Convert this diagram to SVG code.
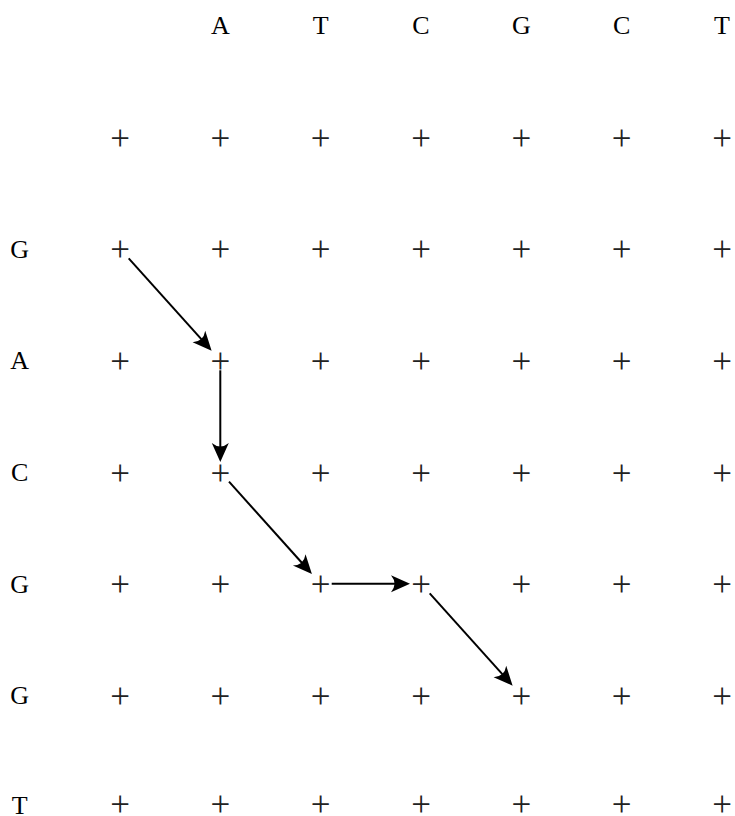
<svg xmlns="http://www.w3.org/2000/svg" width="735" height="816" viewBox="0 0 735 816">
  <defs>
    <style>
      .lbl { font-family: "Liberation Serif", "Times New Roman", serif; font-size: 26px; fill: #000; text-anchor: middle; }
      .pt { font-family: "Liberation Serif", "Times New Roman", serif; font-size: 35px; fill: #222; text-anchor: middle; }
      .step { stroke: #000; stroke-width: 2; fill: none; marker-end: url(#stealth); }
    </style>
    <marker id="stealth" markerUnits="userSpaceOnUse" markerWidth="30" markerHeight="24" viewBox="-15 -12 30 24" refX="0" refY="0" orient="auto" overflow="visible">
      <path d="M6,0 L-13,-8.5 Q-6,0 -13,8.5 Z" fill="#000"/>
    </marker>
  </defs>

  <rect width="735" height="816" fill="#fff"/>

  <!-- column headers (sequence 1) -->
  <g id="col-headers">
    <text class="lbl" x="220.3" y="34">A</text>
    <text class="lbl" x="320.7" y="34">T</text>
    <text class="lbl" x="421" y="34">C</text>
    <text class="lbl" x="521.3" y="34">G</text>
    <text class="lbl" x="621.7" y="34">C</text>
    <text class="lbl" x="722" y="34">T</text>
  </g>

  <!-- row headers (sequence 2) -->
  <g id="row-headers">
    <text class="lbl" x="19.7" y="257.5">G</text>
    <text class="lbl" x="19.7" y="369.1">A</text>
    <text class="lbl" x="19.7" y="480.8">C</text>
    <text class="lbl" x="19.7" y="592.5">G</text>
    <text class="lbl" x="19.7" y="704.1">G</text>
    <text class="lbl" x="19.7" y="814">T</text>
  </g>

  <!-- lattice points: 7 columns x 7 rows, baseline = centre + 12.5 -->
  <g id="lattice">
    <g id="row0">
      <text class="pt" x="120" y="149.5">+</text><text class="pt" x="220.3" y="149.5">+</text><text class="pt" x="320.7" y="149.5">+</text><text class="pt" x="421" y="149.5">+</text><text class="pt" x="521.3" y="149.5">+</text><text class="pt" x="621.7" y="149.5">+</text><text class="pt" x="722" y="149.5">+</text>
    </g>
    <g id="row1">
      <text class="pt" x="120" y="261.2">+</text><text class="pt" x="220.3" y="261.2">+</text><text class="pt" x="320.7" y="261.2">+</text><text class="pt" x="421" y="261.2">+</text><text class="pt" x="521.3" y="261.2">+</text><text class="pt" x="621.7" y="261.2">+</text><text class="pt" x="722" y="261.2">+</text>
    </g>
    <g id="row2">
      <text class="pt" x="120" y="372.8">+</text><text class="pt" x="220.3" y="372.8">+</text><text class="pt" x="320.7" y="372.8">+</text><text class="pt" x="421" y="372.8">+</text><text class="pt" x="521.3" y="372.8">+</text><text class="pt" x="621.7" y="372.8">+</text><text class="pt" x="722" y="372.8">+</text>
    </g>
    <g id="row3">
      <text class="pt" x="120" y="484.5">+</text><text class="pt" x="220.3" y="484.5">+</text><text class="pt" x="320.7" y="484.5">+</text><text class="pt" x="421" y="484.5">+</text><text class="pt" x="521.3" y="484.5">+</text><text class="pt" x="621.7" y="484.5">+</text><text class="pt" x="722" y="484.5">+</text>
    </g>
    <g id="row4">
      <text class="pt" x="120" y="596.2">+</text><text class="pt" x="220.3" y="596.2">+</text><text class="pt" x="320.7" y="596.2">+</text><text class="pt" x="421" y="596.2">+</text><text class="pt" x="521.3" y="596.2">+</text><text class="pt" x="621.7" y="596.2">+</text><text class="pt" x="722" y="596.2">+</text>
    </g>
    <g id="row5">
      <text class="pt" x="120" y="707.8">+</text><text class="pt" x="220.3" y="707.8">+</text><text class="pt" x="320.7" y="707.8">+</text><text class="pt" x="421" y="707.8">+</text><text class="pt" x="521.3" y="707.8">+</text><text class="pt" x="621.7" y="707.8">+</text><text class="pt" x="722" y="707.8">+</text>
    </g>
    <g id="row6">
      <text class="pt" x="120" y="816">+</text><text class="pt" x="220.3" y="816">+</text><text class="pt" x="320.7" y="816">+</text><text class="pt" x="421" y="816">+</text><text class="pt" x="521.3" y="816">+</text><text class="pt" x="621.7" y="816">+</text><text class="pt" x="722" y="816">+</text>
    </g>
  </g>

  <!-- alignment path; each segment stops short of the tip so the head covers it -->
  <g id="path-steps">
    <line class="step" x1="128.7" y1="258.4" x2="207.6" y2="346.2"/>
    <line class="step" x1="220.3" y1="370.3" x2="220.3" y2="456"/>
    <line class="step" x1="229.0" y1="481.7" x2="307.9" y2="569.5"/>
    <line class="step" x1="331.7" y1="583.7" x2="404" y2="583.7"/>
    <line class="step" x1="429.7" y1="593.4" x2="508.6" y2="681.2"/>
  </g>
</svg>
